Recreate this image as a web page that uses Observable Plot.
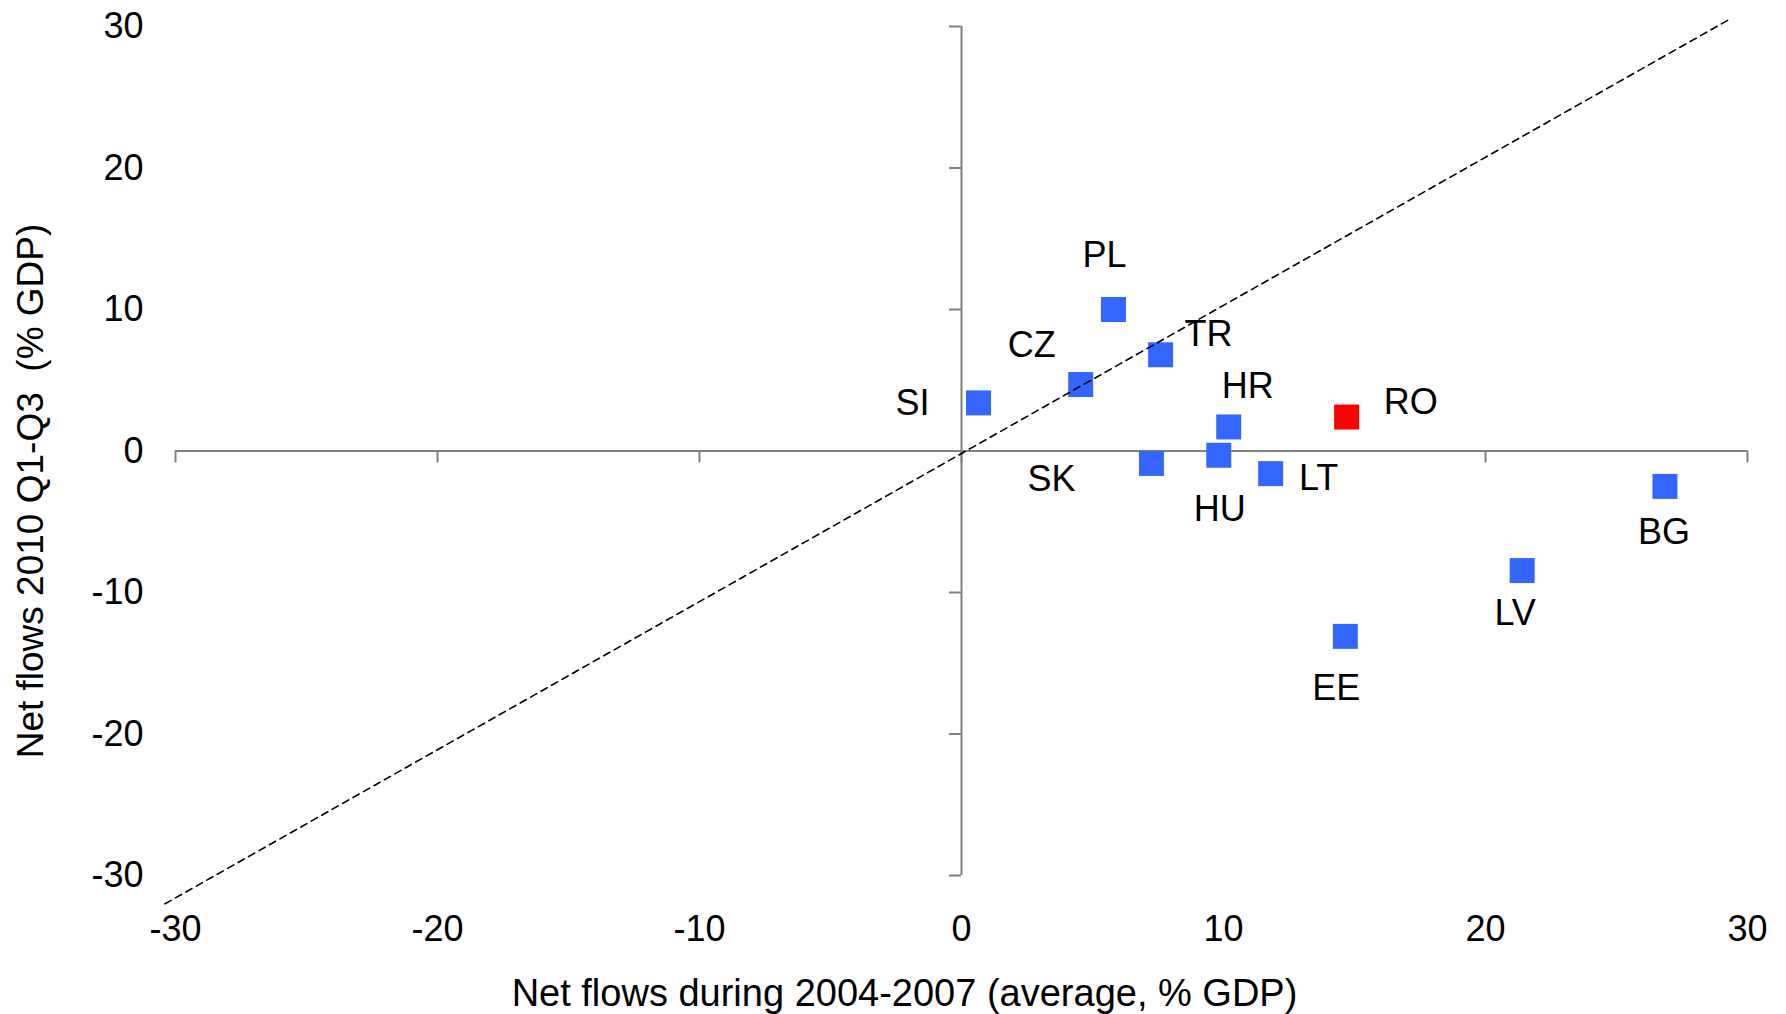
<!DOCTYPE html>
<html>
<head>
<meta charset="utf-8">
<script src="https://cdn.jsdelivr.net/npm/d3@7"></script>
<script src="https://cdn.jsdelivr.net/npm/@observablehq/plot@0.6"></script>
<style>
  html, body { margin: 0; padding: 0; background: #ffffff; }
  #chart svg { display: block; }
</style>
</head>
<body>
<div id="chart"></div>
<script>
// ---- Data ----
const countries   = ["PL", "TR", "CZ", "SI", "HR", "RO", "SK", "HU", "LT", "BG", "LV", "EE"];
const flows0407   = [5.8, 7.6, 4.55, 0.65, 10.2, 14.7, 7.25, 9.82, 11.8, 26.85, 21.4, 14.65];
const flows2010   = [10.0, 6.8, 4.7, 3.4, 1.7, 2.4, -0.88, -0.3, -1.6, -2.5, -8.45, -13.1];
const highlighted = ["RO"];
const xTicks = [-30, -20, -10, 0, 10, 20, 30];
const yTicks = [-30, -20, -10, 0, 10, 20, 30];
const diagonalX = [-30.4, 29.4];
const diagonalY = [-32.0, 30.6];
const xTitle = "Net flows during 2004-2007 (average, % GDP)";
const yTitle = "Net flows 2010 Q1-Q3  (% GDP)";

// ---- Tables built from the arrays ----
const points = countries.map((c, i) => ({country: c, x: flows0407[i], y: flows2010[i], hl: highlighted.includes(c)}));
const diagonal = diagonalX.map((x, i) => ({x, y: diagonalY[i]}));

// ---- Layout / style ----
const W = 1786, H = 1014;
const mL = 175, mR = 39, mT = 26, mB = 139;
const innerW = W - mL - mR, innerH = H - mT - mB;
const tickLen = 12;
const font = "'Liberation Sans', Arial, sans-serif";
const gray = "#808080";
const blue = "#3366FF";
const red = "#FF0000";

// label placement (pixel offsets from the square centre)
const labelOffset = {
  PL: [-9, -54], TR: [48, -20], CZ: [-49, -39], SI: [-66, 1],
  HR: [19, -40], RO: [64, -15], SK: [-100, 16], HU: [1, 54],
  LT: [48, 5], BG: [-1, 46], LV: [-7, 43], EE: [-9, 52]
};

const labelMarks = points.map(p => Plot.text([p], {
  x: "x", y: "y", text: "country",
  dx: labelOffset[p.country][0], dy: labelOffset[p.country][1],
  fontSize: 36, fill: "#000"
}));

const chart = Plot.plot({
  width: W, height: H,
  marginLeft: mL, marginRight: mR, marginTop: mT, marginBottom: mB,
  style: {fontFamily: font, background: "#ffffff", overflow: "visible"},
  x: {domain: [-30, 30], ticks: xTicks},
  y: {domain: [-30, 30], ticks: yTicks},
  marks: [
    // tick labels at the frame edges
    Plot.axisX(xTicks, {tickSize: 0, tickPadding: 40, fontSize: 36, tickFormat: d => String(d), label: null, fill: "#000"}),
    Plot.axisY(yTicks, {tickSize: 0, tickPadding: 32, fontSize: 36, tickFormat: d => String(d), label: null, fill: "#000"}),
    // axis lines through the origin
    Plot.ruleY([0], {stroke: gray, strokeWidth: 2}),
    Plot.ruleX([0], {stroke: gray, strokeWidth: 2}),
    // tick marks
    Plot.ruleX(xTicks, {x: d => d, y1: 0, y2: -tickLen * 60 / innerH, stroke: gray, strokeWidth: 2}),
    Plot.ruleY(yTicks, {y: d => d, x1: 0, x2: -tickLen * 60 / innerW, stroke: gray, strokeWidth: 2}),
    // squares
    Plot.dot(points, {x: "x", y: "y", symbol: "square", r: 14.1, fill: d => d.hl ? red : blue, stroke: "none"}),
    // 45-degree reference line
    Plot.line(diagonal, {x: "x", y: "y", stroke: "#000", strokeWidth: 1.6, strokeDasharray: "7,5"}),
    // labels
    ...labelMarks,
    // axis titles
    Plot.text([xTitle], {frameAnchor: "bottom", textAnchor: "middle", lineAnchor: "middle", dx: -57, dy: 118, fontSize: 38, fill: "#000"}),
    Plot.text([yTitle], {frameAnchor: "left", textAnchor: "middle", lineAnchor: "middle", rotate: -90, dx: -144, dy: 40, fontSize: 37, fill: "#000"})
  ]
});
document.getElementById("chart").appendChild(chart);
</script>
</body>
</html>
